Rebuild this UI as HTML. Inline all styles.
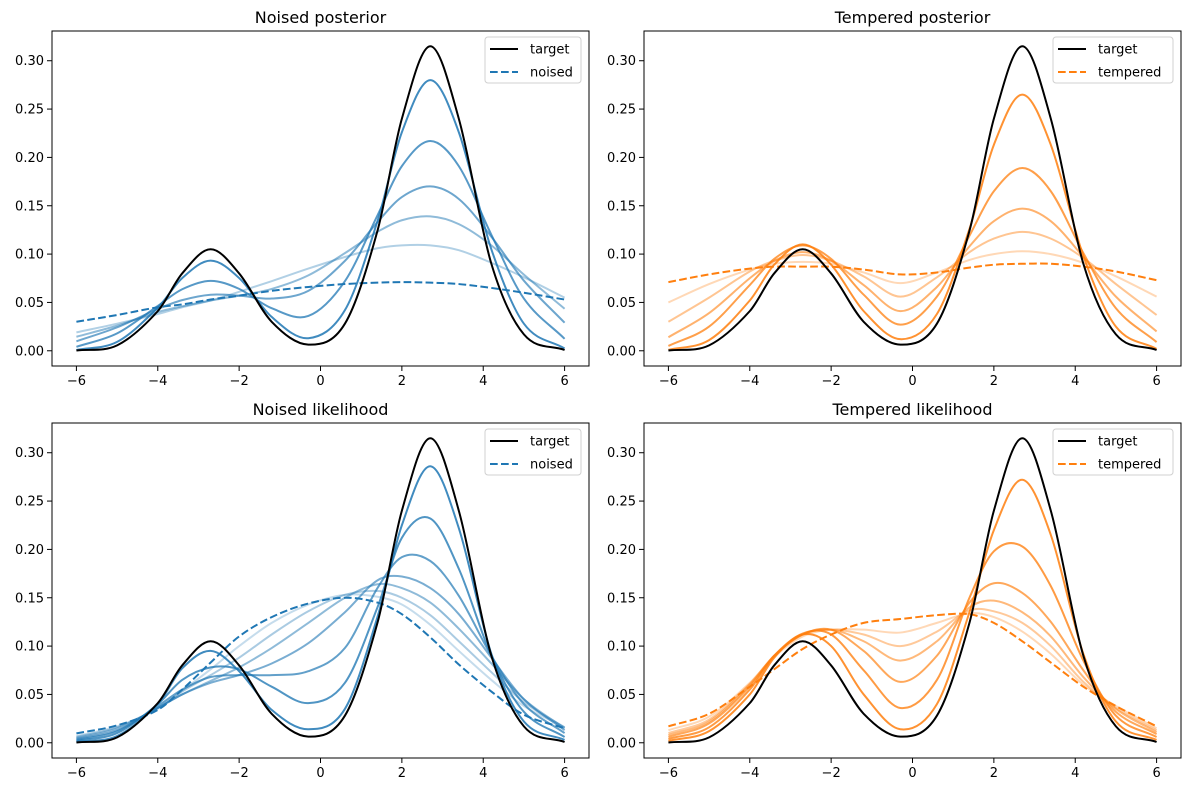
<!DOCTYPE html>
<html><head><meta charset="utf-8">
<style>
html,body{margin:0;padding:0;background:#fff;}
svg{display:block;font-family:"DejaVu Sans","Liberation Sans",sans-serif;}
</style></head>
<body>
<svg id="fig" width="1189" height="790" viewBox="0 0 1189 790"></svg>
<script>
// ---- data ----
const xGrid = [-6,-5,-4,-3.4,-2.7,-2,-1.2,-0.3,0.6,1.4,2,2.7,3.4,4.2,5,6];
const xTicks = [-6,-4,-2,0,2,4,6];
const yTicks = [0,0.05,0.10,0.15,0.20,0.25,0.30];
const yTickLabels = ["0.00","0.05","0.10","0.15","0.20","0.25","0.30"];
const target = [0.0003,0.0056,0.041,0.080,0.105,0.080,0.030,0.0064,0.028,0.124,0.240,0.315,0.240,0.090,0.017,0.0008];

const noisedPostCurves = [
 [0.0008,0.0092,0.0446,0.0752,0.0932,0.0752,0.035,0.013,0.042,0.134,0.226,0.280,0.226,0.105,0.028,0.0024],
 [0.0041,0.018,0.0464,0.0636,0.0723,0.064,0.044,0.036,0.072,0.140,0.191,0.217,0.191,0.120,0.054,0.0124],
 [0.0098,0.0242,0.0432,0.0524,0.058,0.057,0.054,0.062,0.093,0.133,0.159,0.170,0.157,0.118,0.0725,0.029],
 [0.0145,0.026,0.040,0.046,0.052,0.057,0.064,0.078,0.101,0.123,0.135,0.139,0.131,0.109,0.0787,0.0435],
 [0.019,0.028,0.038,0.045,0.052,0.061,0.072,0.085,0.097,0.106,0.109,0.109,0.104,0.091,0.076,0.055]
];
const noisedPostDashed = [0.030,0.037,0.045,0.048,0.053,0.057,0.062,0.066,0.069,0.0705,0.071,0.0705,0.069,0.065,0.060,0.053];

const temperedPostCurves = [
 [0.001,0.011,0.052,0.089,0.110,0.089,0.041,0.012,0.038,0.126,0.213,0.265,0.213,0.098,0.025,0.002],
 [0.005,0.025,0.068,0.095,0.109,0.095,0.058,0.027,0.056,0.119,0.165,0.189,0.165,0.101,0.044,0.009],
 [0.014,0.039,0.075,0.093,0.102,0.093,0.068,0.041,0.066,0.108,0.134,0.147,0.134,0.097,0.056,0.020],
 [0.030,0.055,0.082,0.093,0.099,0.093,0.077,0.056,0.076,0.102,0.116,0.123,0.116,0.096,0.069,0.037],
 [0.050,0.069,0.084,0.090,0.092,0.090,0.081,0.070,0.081,0.094,0.100,0.103,0.100,0.091,0.077,0.056]
];
const temperedPostDashed = [0.071,0.079,0.085,0.087,0.087,0.087,0.084,0.079,0.081,0.086,0.089,0.090,0.090,0.087,0.082,0.073];

const noisedLikCurves = [
 [0.001,0.007,0.040,0.077,0.095,0.074,0.034,0.014,0.035,0.130,0.225,0.286,0.222,0.092,0.022,0.003],
 [0.002,0.010,0.040,0.065,0.078,0.076,0.058,0.041,0.062,0.140,0.212,0.232,0.180,0.090,0.032,0.006],
 [0.003,0.012,0.038,0.055,0.068,0.070,0.070,0.074,0.098,0.160,0.192,0.188,0.152,0.090,0.040,0.010],
 [0.004,0.013,0.036,0.050,0.062,0.070,0.082,0.103,0.135,0.168,0.172,0.160,0.133,0.088,0.045,0.013],
 [0.005,0.015,0.036,0.050,0.064,0.078,0.098,0.124,0.150,0.164,0.160,0.145,0.118,0.082,0.045,0.015],
 [0.006,0.016,0.036,0.053,0.070,0.088,0.112,0.136,0.153,0.157,0.150,0.132,0.105,0.073,0.042,0.016],
 [0.007,0.017,0.035,0.054,0.076,0.100,0.124,0.143,0.153,0.151,0.143,0.122,0.095,0.065,0.038,0.016]
];
const noisedLikDashed = [0.0097,0.018,0.034,0.055,0.083,0.110,0.130,0.144,0.150,0.145,0.133,0.109,0.081,0.053,0.029,0.015];

const temperedLikCurves = [
 [0.002,0.012,0.050,0.088,0.112,0.100,0.050,0.014,0.040,0.135,0.220,0.272,0.215,0.092,0.022,0.003],
 [0.004,0.016,0.055,0.090,0.113,0.112,0.075,0.036,0.065,0.150,0.198,0.203,0.162,0.085,0.028,0.006],
 [0.006,0.020,0.058,0.090,0.112,0.117,0.095,0.063,0.090,0.145,0.165,0.155,0.125,0.075,0.032,0.009],
 [0.008,0.022,0.060,0.090,0.112,0.117,0.105,0.085,0.105,0.140,0.147,0.135,0.110,0.068,0.035,0.011],
 [0.010,0.024,0.061,0.090,0.112,0.117,0.112,0.100,0.115,0.137,0.136,0.124,0.100,0.063,0.036,0.013],
 [0.013,0.027,0.062,0.089,0.110,0.117,0.117,0.114,0.124,0.134,0.130,0.115,0.092,0.060,0.038,0.015]
];
const temperedLikDashed = [0.017,0.030,0.058,0.076,0.097,0.112,0.124,0.128,0.132,0.133,0.124,0.105,0.083,0.058,0.038,0.017];

// ---- drawing ----
const NS="http://www.w3.org/2000/svg";
const svg=document.getElementById('fig');
function mk(tag,attrs,parent){const e=document.createElementNS(NS,tag);for(const k in attrs)e.setAttribute(k,attrs[k]);(parent||svg).appendChild(e);return e;}

// Hermite spline in data space (handles non-uniform x spacing)
function splinePath(xs,ys,sx,sy){
  const n=xs.length, m=[];
  for(let i=0;i<n;i++){
    if(i===0) m.push((ys[1]-ys[0])/(xs[1]-xs[0]));
    else if(i===n-1) m.push((ys[n-1]-ys[n-2])/(xs[n-1]-xs[n-2]));
    else m.push((ys[i+1]-ys[i-1])/(xs[i+1]-xs[i-1]));
  }
  let d="M"+sx(xs[0]).toFixed(2)+","+sy(ys[0]).toFixed(2);
  for(let i=0;i<n-1;i++){
    const h=xs[i+1]-xs[i];
    const c1x=xs[i]+h/3, c1y=ys[i]+m[i]*h/3;
    const c2x=xs[i+1]-h/3, c2y=ys[i+1]-m[i+1]*h/3;
    d+=" C"+sx(c1x).toFixed(2)+","+sy(c1y).toFixed(2)+" "+sx(c2x).toFixed(2)+","+sy(c2y).toFixed(2)+" "+sx(xs[i+1]).toFixed(2)+","+sy(ys[i+1]).toFixed(2);
  }
  return d;
}

function panel(cfg){
  const {x0,x1,y0,y1,title,color,curves,alphas,dashed,label,key}=cfg;
  const g=mk('g',{});
  
  
  const xMin=-6.6,xMax=6.6,yMin=-0.01575,yMax=0.33075;
  const sx=v=>x0+(v-xMin)/(xMax-xMin)*(x1-x0);
  const sy=v=>y1-(v-yMin)/(yMax-yMin)*(y1-y0);
  const t=mk('text',{x:(x0+x1)/2,y:y0-8,'text-anchor':'middle','font-size':'16',fill:'#000'},g);
  t.textContent=title;
  
  
  const clipId='clip-'+key;
  const cp=mk('clipPath',{id:clipId},g);
  mk('rect',{x:x0,y:y0,width:x1-x0,height:y1-y0},cp);
  const lines=mk('g',{'clip-path':'url(#'+clipId+')'},g);
  for(let i=curves.length-1;i>=0;i--){
    const p=mk('path',{d:splinePath(xGrid,curves[i],sx,sy),fill:'none',stroke:color,'stroke-width':2,'stroke-opacity':alphas[i]},lines);
    
    
  }
  const dp=mk('path',{d:splinePath(xGrid,dashed,sx,sy),fill:'none',stroke:color,'stroke-width':2,'stroke-dasharray':'7.7,3.3'},lines);
  
  
  const tp=mk('path',{d:splinePath(xGrid,target,sx,sy),fill:'none',stroke:'#000','stroke-width':2},lines);
  
  
  const fr=mk('rect',{x:x0,y:y0,width:x1-x0,height:y1-y0,fill:'none',stroke:'#000','stroke-width':1},g);
  
  
  xTicks.forEach(v=>{
    const X=sx(v);
    mk('line',{x1:X,y1:y1,x2:X,y2:y1+5,stroke:'#000','stroke-width':1},g);
    const tx=mk('text',{x:X,y:y1+19,'text-anchor':'middle','font-size':'13',fill:'#000'},g);
    tx.textContent=(v<0?'\u2212'+(-v):String(v));
    
    
  });
  yTicks.forEach((v,i)=>{
    const Y=sy(v);
    mk('line',{x1:x0-5,y1:Y,x2:x0,y2:Y,stroke:'#000','stroke-width':1},g);
    const ty=mk('text',{x:x0-8,y:Y+4.5,'text-anchor':'end','font-size':'13',fill:'#000'},g);
    ty.textContent=yTickLabels[i];
    
    
  });
  const lw=label==='tempered'?120:96;
  const lx=x1-8-lw, ly=y0+6;
  const lg=mk('g',{},g);
  
  
  mk('rect',{x:lx,y:ly,width:lw,height:46,rx:3,fill:'#fff','fill-opacity':0.8,stroke:'#d0d0d0','stroke-width':1},lg);
  mk('line',{x1:lx+5,y1:ly+12,x2:lx+33,y2:ly+12,stroke:'#000','stroke-width':2},lg);
  const l1=mk('text',{x:lx+45,y:ly+16.5,'font-size':'13',fill:'#000'},lg);
  l1.textContent='target';
  
  
  mk('line',{x1:lx+5,y1:ly+35,x2:lx+33,y2:ly+35,stroke:color,'stroke-width':2,'stroke-dasharray':'7.7,3.3'},lg);
  const l2=mk('text',{x:lx+45,y:ly+39.5,'font-size':'13',fill:'#000'},lg);
  l2.textContent=label;
  
  
}

const blue='#1f77b4',orange='#ff7f0e';
panel({key:'noised-posterior',x0:52,x1:589,y0:31,y1:366,title:'Noised posterior',color:blue,curves:noisedPostCurves,alphas:[0.85,0.75,0.65,0.5,0.35],dashed:noisedPostDashed,label:'noised'});
panel({key:'tempered-posterior',x0:644,x1:1181,y0:31,y1:366,title:'Tempered posterior',color:orange,curves:temperedPostCurves,alphas:[0.85,0.75,0.6,0.45,0.3],dashed:temperedPostDashed,label:'tempered'});
panel({key:'noised-likelihood',x0:52,x1:589,y0:423,y1:758,title:'Noised likelihood',color:blue,curves:noisedLikCurves,alphas:[0.85,0.78,0.7,0.6,0.5,0.38,0.26],dashed:noisedLikDashed,label:'noised'});
panel({key:'tempered-likelihood',x0:644,x1:1181,y0:423,y1:758,title:'Tempered likelihood',color:orange,curves:temperedLikCurves,alphas:[0.85,0.78,0.68,0.55,0.42,0.3],dashed:temperedLikDashed,label:'tempered'});
</script>
</body></html>
